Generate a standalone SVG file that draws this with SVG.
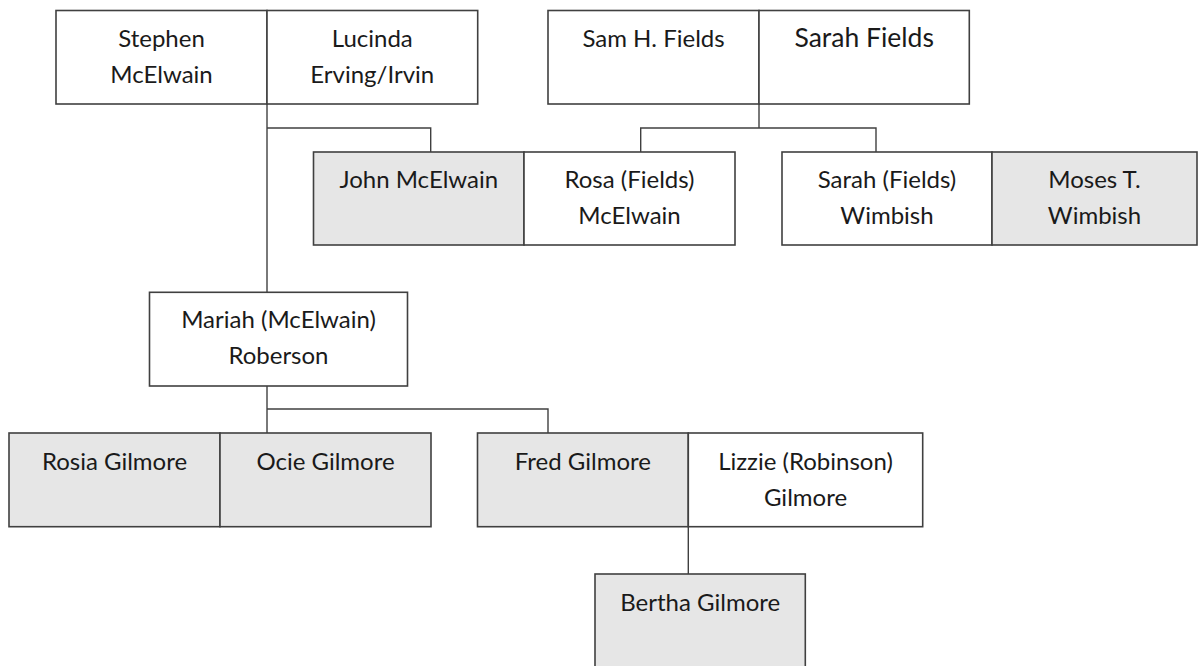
<svg xmlns="http://www.w3.org/2000/svg" width="1198" height="666" viewBox="0 0 1198 666">
<style>
.box{fill:#ffffff;stroke:#404040;stroke-width:1.6}
.grey{fill:#e6e6e6}
.lbl{font-family:Lato,"Open Sans","Liberation Sans",sans-serif;font-size:24px;fill:#1a1a1a;text-anchor:middle}
.big{font-size:26.5px}
.con{fill:none;stroke:#404040;stroke-width:1.4}
</style>
<rect width="1198" height="666" fill="#ffffff"/>
<g id="connectors">
<path class="con" d="M267,104 V292.3"/>
<path class="con" d="M267,128 H430.7 V152"/>
<path class="con" d="M759,104 V128"/>
<path class="con" d="M640.7,152 V128 H876 V152"/>
<path class="con" d="M267,386 V433"/>
<path class="con" d="M267,409 H548 V433"/>
<path class="con" d="M688.3,526.7 V574"/>
</g>
<g id="stephen">
<rect class="box" x="56" y="10.5" width="211" height="93.5"/>
<text class="lbl" x="161.5" y="47">Stephen</text>
<text class="lbl" x="161.5" y="83">McElwain</text>
</g>
<g id="lucinda">
<rect class="box" x="267" y="10.5" width="210.7" height="93.5"/>
<text class="lbl" x="372.3" y="47">Lucinda</text>
<text class="lbl" x="372.3" y="83">Erving/Irvin</text>
</g>
<g id="sam">
<rect class="box" x="548" y="10.5" width="211" height="93.5"/>
<text class="lbl" x="653.5" y="47">Sam H. Fields</text>
</g>
<g id="sarah-fields">
<rect class="box" x="759" y="10.5" width="210.3" height="93.5"/>
<text class="lbl big" x="864.2" y="47">Sarah Fields</text>
</g>
<g id="john">
<rect class="box grey" x="313.5" y="152" width="210.5" height="93"/>
<text class="lbl" x="418.8" y="187.5">John McElwain</text>
</g>
<g id="rosa">
<rect class="box" x="524" y="152" width="211" height="93"/>
<text class="lbl" x="629.5" y="187.5">Rosa (Fields)</text>
<text class="lbl" x="629.5" y="223.5">McElwain</text>
</g>
<g id="sarah-wimbish">
<rect class="box" x="782" y="152" width="210" height="93"/>
<text class="lbl" x="887" y="187.5">Sarah (Fields)</text>
<text class="lbl" x="887" y="223.5">Wimbish</text>
</g>
<g id="moses">
<rect class="box grey" x="992" y="152" width="205" height="93"/>
<text class="lbl" x="1094.5" y="187.5">Moses T.</text>
<text class="lbl" x="1094.5" y="223.5">Wimbish</text>
</g>
<g id="mariah">
<rect class="box" x="149.5" y="292.3" width="258" height="93.7"/>
<text class="lbl" x="278.5" y="327.5">Mariah (McElwain)</text>
<text class="lbl" x="278.5" y="363.5">Roberson</text>
</g>
<g id="rosia">
<rect class="box grey" x="9" y="433" width="211" height="93.7"/>
<text class="lbl" x="114.5" y="469.5">Rosia Gilmore</text>
</g>
<g id="ocie">
<rect class="box grey" x="220" y="433" width="211" height="93.7"/>
<text class="lbl" x="325.5" y="469.5">Ocie Gilmore</text>
</g>
<g id="fred">
<rect class="box grey" x="477.5" y="433" width="210.8" height="93.7"/>
<text class="lbl" x="582.9" y="469.5">Fred Gilmore</text>
</g>
<g id="lizzie">
<rect class="box" x="688.3" y="433" width="234.4" height="93.7"/>
<text class="lbl" x="805.5" y="469.5">Lizzie (Robinson)</text>
<text class="lbl" x="805.5" y="505.5">Gilmore</text>
</g>
<g id="bertha">
<rect class="box grey" x="595" y="574" width="210.3" height="100"/>
<text class="lbl" x="700.2" y="610.5">Bertha Gilmore</text>
</g>
</svg>
